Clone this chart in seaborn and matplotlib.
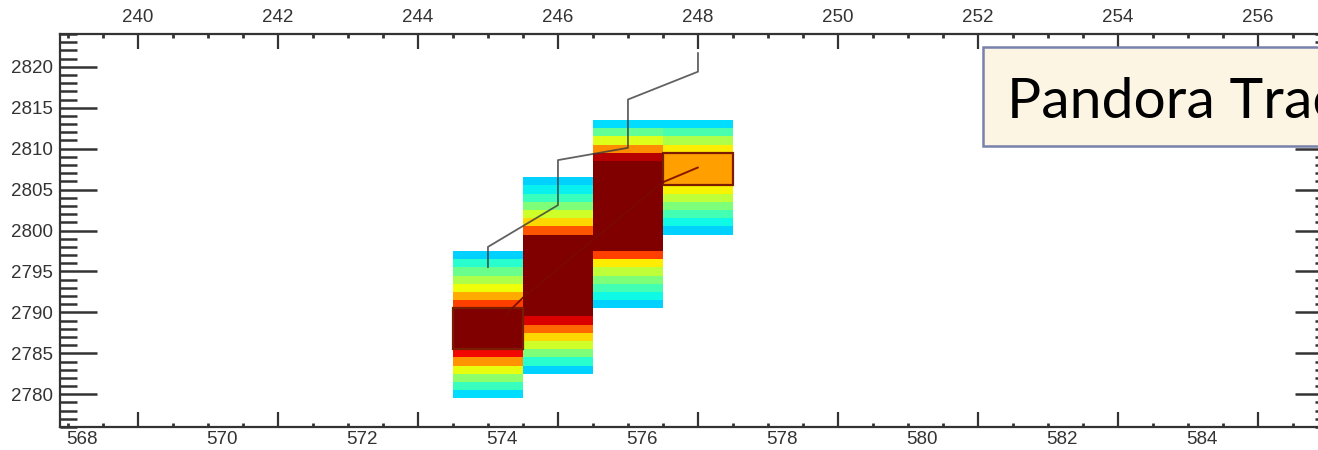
import numpy as np
import pandas as pd
import matplotlib
matplotlib.use("Agg")
import matplotlib.pyplot as plt
from matplotlib.patches import Rectangle
from matplotlib.ticker import MultipleLocator
import seaborn as sns

# ============ hit columns: wire, first drift bin, charge per 1-unit bin (0..1 on jet) ============
wires = [245, 246, 247, 248]
first_bin = [2780, 2783, 2791, 2800]
charge = [
    [0.34, 0.42, 0.52, 0.63, 0.75, 0.90, 1.0, 1.0, 1.0, 1.0, 1.0, 0.84, 0.73, 0.64, 0.56, 0.48, 0.40, 0.33],
    [0.33, 0.40, 0.50, 0.60, 0.68, 0.80, 0.92, 1.0, 1.0, 1.0, 1.0, 1.0, 1.0, 1.0, 1.0, 1.0, 1.0,
     0.82, 0.68, 0.60, 0.50, 0.42, 0.36, 0.33],
    [0.33, 0.37, 0.43, 0.50, 0.58, 0.66, 0.84, 1.0, 1.0, 1.0, 1.0, 1.0, 1.0, 1.0, 1.0, 1.0, 1.0, 1.0,
     0.95, 0.76, 0.62, 0.47, 0.34],
    [0.33, 0.37, 0.43, 0.50, 0.58, 0.65, 0.74, 0.74, 0.74, 0.74, 0.66, 0.56, 0.44, 0.34],
]

# outlined hits
hit_wire = [245, 248]
hit_lo = [2785.5, 2805.5]
hit_hi = [2790.5, 2809.5]

# reconstructed tracks
track_a_x = [245, 245, 246, 246, 247, 247, 248, 248]
track_a_y = [2795.5, 2798.0, 2803.1, 2808.6, 2810.1, 2816.0, 2819.4, 2821.7]
track_b_x = [245.25, 245.5, 247.5, 248.0]
track_b_y = [2789.7, 2791.8, 2805.9, 2807.7]

top_ticks = [240, 242, 244, 246, 248, 250, 252, 254, 256]
bottom_ticks = [568, 570, 572, 574, 576, 578, 580, 582, 584]
bottom_offset = 328.8

# ---- long table for the 2D histogram ----
rows = []
for w, b0, q in zip(wires, first_bin, charge):
    for i, v in enumerate(q):
        rows.append({"wire": w, "drift": b0 + i, "q": v})
hits = pd.DataFrame(rows)

track_a = pd.DataFrame({"x": track_a_x, "y": track_a_y})
track_b = pd.DataFrame({"x": track_b_x, "y": track_b_y})

sns.set_style("white")
plt.rcParams["font.family"] = ["Liberation Sans", "DejaVu Sans"]

fig = plt.figure(figsize=(13.18, 4.5), dpi=100)
ax = fig.add_axes([0.0455, 0.0511, 0.9651, 0.8733])

sns.histplot(data=hits, x="wire", y="drift", weights="q", binwidth=1,
             binrange=((244.5, 248.5), (2779.5, 2813.5)),
             cmap=matplotlib.colormaps["jet"], vmin=0, vmax=1, ax=ax)
ax.collections[0].set_clim(0, 1)

for w, lo, hi in zip(hit_wire, hit_lo, hit_hi):
    ax.add_patch(Rectangle((w - 0.5, lo), 1, hi - lo, facecolor="none",
                           edgecolor="#7a1c00", lw=1.6, zorder=3))

sns.lineplot(data=track_a, x="x", y="y", estimator=None, sort=False,
             color="#3a3a3a", lw=1.3, alpha=0.8, ax=ax, zorder=4)
sns.lineplot(data=track_b, x="x", y="y", estimator=None, sort=False,
             color="#7a0a00", lw=1.4, alpha=0.9, ax=ax, zorder=4)

ax.set_xlim(238.886, 257.057)
ax.set_ylim(2776.0, 2824.0)
ax.set_xlabel("")
ax.set_ylabel("")

# ---- ticks ----
ax.set_xticks(top_ticks)
ax.xaxis.set_minor_locator(MultipleLocator(0.5))
ax.yaxis.set_major_locator(MultipleLocator(5))
ax.yaxis.set_minor_locator(MultipleLocator(1))
ax.tick_params(axis="x", which="major", direction="in", length=11, width=1.6, color="#333333",
               top=True, bottom=True, labeltop=True, labelbottom=False, pad=5.5,
               labelsize=13.5, labelcolor="#333333")
ax.tick_params(axis="x", which="minor", direction="in", length=3, width=2, color="#333333",
               top=True, bottom=True)
ax.tick_params(axis="y", which="major", direction="in", length=26.5, width=1.8, color="#333333",
               left=True, right=True, pad=5, labelsize=13.5, labelcolor="#333333")
ax.tick_params(axis="y", which="minor", direction="in", length=12, width=1.8, color="#333333",
               left=True, right=True)

for s in ax.spines.values():
    s.set_color("#333333")
    s.set_linewidth(1.6)

sec = ax.secondary_xaxis("bottom", functions=(lambda t: t + bottom_offset,
                                               lambda b: b - bottom_offset))
sec.set_xticks(bottom_ticks)
sec.tick_params(length=0, pad=3, labelsize=13.5, labelcolor="#333333")
sec.spines["bottom"].set_visible(False)

# ---- label box (cut off by the right edge, as in the source slide) ----
fig.add_artist(Rectangle((0.7458, 0.6756), 0.30, 0.22, transform=fig.transFigure,
                         facecolor="#fdf5e3", edgecolor="#7781ac", lw=1.8, zorder=10))
fig.text(0.764, 0.7378, "Pandora Track", family=["Lato", "DejaVu Sans"], fontsize=41,
         ha="left", va="baseline", color="black", zorder=11)

fig.savefig("out.png", dpi=100)
